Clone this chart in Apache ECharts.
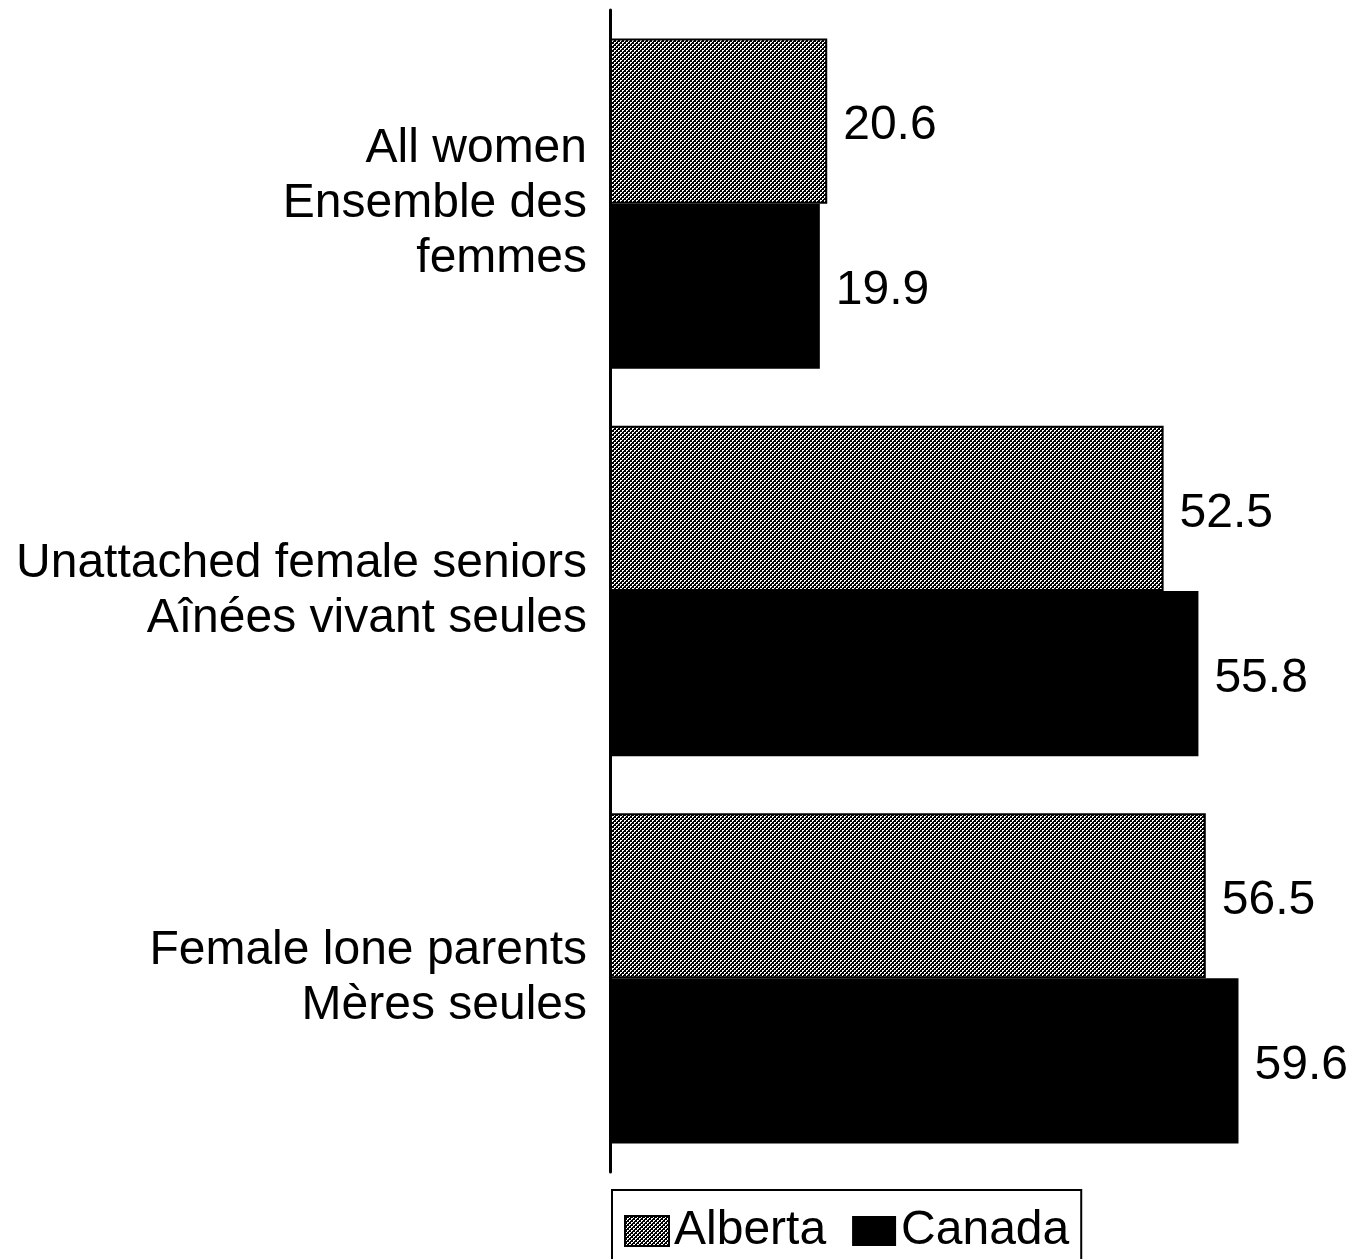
<!DOCTYPE html>
<html><head><meta charset="utf-8">
<script src="https://cdn.jsdelivr.net/npm/echarts@6/dist/echarts.min.js"></script>
<style>html,body{margin:0;padding:0;background:#fff}#c{width:1365px;height:1259px}</style>
</head><body><div id="c"></div>
<script>
const categories = ["All women\nEnsemble des\nfemmes", "Unattached female seniors\nAînées vivant seules", "Female lone parents\nMères seules"];
const seriesNames = ["Alberta", "Canada"];
const albertaValues = [20.6, 52.5, 56.5];
const canadaValues = [19.9, 55.8, 59.6];

const pc = document.createElement('canvas');
pc.width = 4; pc.height = 4;
const g = pc.getContext('2d');
g.fillStyle = '#000'; g.fillRect(0,0,4,4);
g.fillStyle = '#fff';
g.fillRect(0,0,2,1); g.fillRect(0,1,1,1);
g.fillRect(2,2,2,1); g.fillRect(2,3,1,1);
const pattern = {image: pc, repeat: 'repeat'};

const font = '"Liberation Sans", Arial, Helvetica, sans-serif';
const chart = echarts.init(document.getElementById('c'), null, {renderer: 'canvas'});
chart.setOption({
  animation: false,
  grid: {left: 610, top: 10, width: 735, height: 1162},
  xAxis: {type: 'value', min: 0, max: 69.7, show: false},
  yAxis: {
    type: 'category', data: categories, inverse: true,
    axisLine: {show: true, lineStyle: {color: '#000', width: 3}},
    axisTick: {show: false},
    axisLabel: {color: '#000', fontSize: 48, fontFamily: font, lineHeight: 55, margin: 23, align: 'right',
                padding: [6, 0, 0, 0]}
  },
  legend: {
    data: seriesNames, top: 1190, left: 612,
    orient: 'horizontal',
    borderColor: '#000', borderWidth: 2, borderRadius: 0,
    padding: [17, 12, 40, 12],
    itemWidth: 44, itemHeight: 30, itemGap: 26,
    textStyle: {color: '#000', fontSize: 48, fontFamily: font},
    icon: 'rect'
  },
  series: [
    {name: seriesNames[0], type: 'bar', data: albertaValues, barGap: '0%', barCategoryGap: '14.7%',
     itemStyle: {color: pattern, borderColor: '#000', borderWidth: 2},
     label: {show: true, position: 'right', distance: 16, offset: [0, 5], color: '#000', fontSize: 48, fontFamily: font,
             formatter: p => p.value.toFixed(1)}},
    {name: seriesNames[1], type: 'bar', data: canadaValues, barGap: '0%', barCategoryGap: '14.7%',
     itemStyle: {color: '#000'},
     label: {show: true, position: 'right', distance: 16, offset: [0, 5], color: '#000', fontSize: 48, fontFamily: font,
             formatter: p => p.value.toFixed(1)}}
  ]
});
</script></body></html>
